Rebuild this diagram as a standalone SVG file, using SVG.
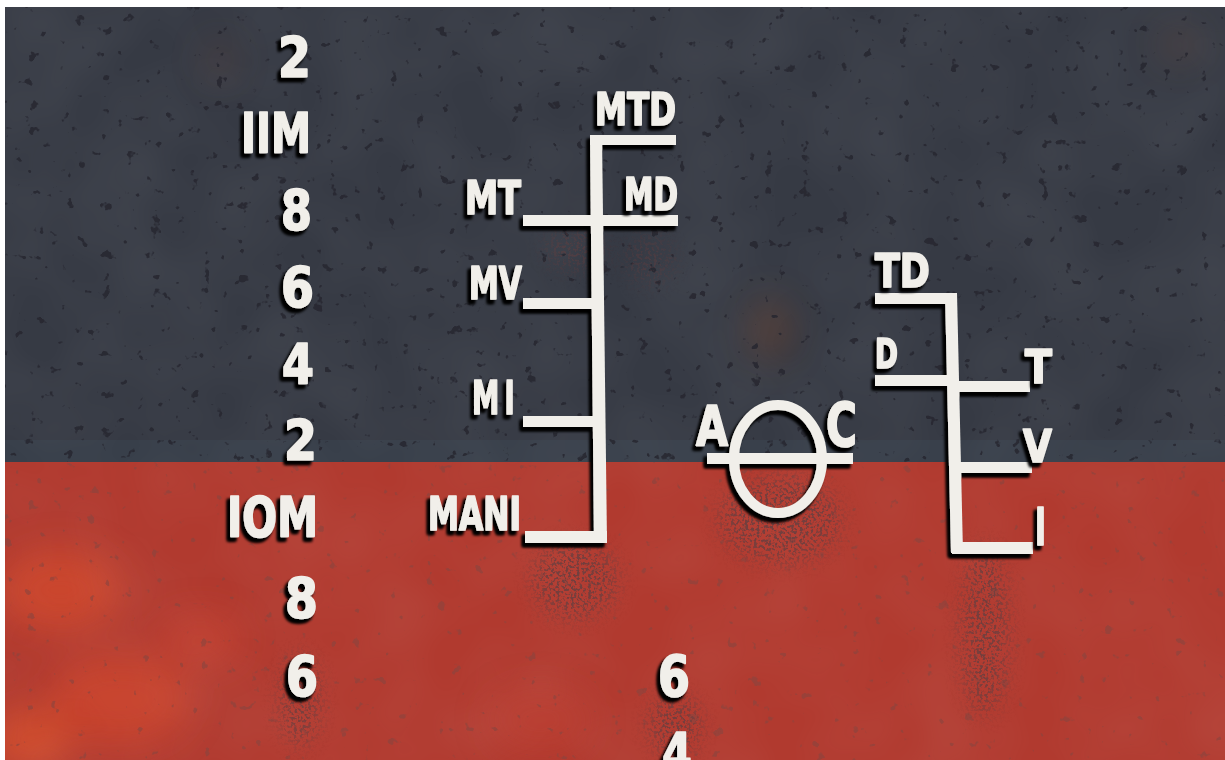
<svg xmlns="http://www.w3.org/2000/svg" width="1225" height="760" viewBox="0 0 1225 760">
  <defs>
    <style>
      .mk { fill: #f1efea; }
      .lbl { font-family: "DejaVu Sans Condensed", "DejaVu Sans", sans-serif; font-weight: bold; fill: #f1efea; stroke: #f1efea; stroke-width: 1.6; stroke-linejoin: round; }
      .ring { fill: none; stroke: #f1efea; stroke-width: 10; }
      .stain { fill: #000; }
    </style>
    <clipPath id="plate">
      <rect x="5" y="7" width="1220" height="753"/>
    </clipPath>
    <!-- raised, welded look: dark soft shadow to the lower left -->
    <filter id="raise" x="-10%" y="-10%" width="120%" height="120%">
      <feGaussianBlur in="SourceAlpha" stdDeviation="1.8" result="b"/>
      <feOffset in="b" dx="-3.5" dy="3.5" result="o"/>
      <feFlood flood-color="#050506" flood-opacity="1"/>
      <feComposite in2="o" operator="in" result="s"/>
      <feMerge><feMergeNode in="s"/><feMergeNode in="s"/><feMergeNode in="SourceGraphic"/></feMerge>
    </filter>
    <!-- black pits over the topside paint -->
    <filter id="pits" x="0" y="0" width="100%" height="100%">
      <feTurbulence type="fractalNoise" baseFrequency="0.08" numOctaves="3" seed="11" result="n"/>
      <feColorMatrix in="n" type="matrix" values="0 0 0 0 0.02  0 0 0 0 0.02  0 0 0 0 0.03  -16 0 0 0 4.65"/>
    </filter>
    <!-- fewer, fainter flecks on the red -->
    <filter id="flecks" x="0" y="0" width="100%" height="100%">
      <feTurbulence type="fractalNoise" baseFrequency="0.08" numOctaves="3" seed="23" result="n"/>
      <feColorMatrix in="n" type="matrix" values="0 0 0 0 0.25  0 0 0 0 0.06  0 0 0 0 0.05  -16 0 0 0 4.35"/>
    </filter>
    <!-- broad mottling of the paint -->
    <filter id="mottle" x="0" y="0" width="100%" height="100%">
      <feTurbulence type="fractalNoise" baseFrequency="0.012" numOctaves="2" seed="4" result="n"/>
      <feColorMatrix in="n" type="matrix" values="0 0 0 0 1  0 0 0 0 1  0 0 0 0 1  0 0 0 -1.2 0.9"/>
    </filter>
    <!-- dark rust-run speckle, shaped by the drawn blob -->
    <filter id="smudge" x="-60%" y="-60%" width="220%" height="220%">
      <feGaussianBlur in="SourceAlpha" stdDeviation="10" result="b"/>
      <feTurbulence type="fractalNoise" baseFrequency="0.35" numOctaves="2" seed="3" result="n"/>
      <feColorMatrix in="n" type="matrix" values="0 0 0 0 0.15  0 0 0 0 0.05  0 0 0 0 0.05  -7 0 0 0 3.6" result="dots"/>
      <feComposite in="dots" in2="b" operator="in"/>
    </filter>
    <filter id="soft" x="-50%" y="-50%" width="200%" height="200%">
      <feGaussianBlur stdDeviation="18"/>
    </filter>
  </defs>

  <rect x="0" y="0" width="1225" height="760" fill="#ffffff"/>

  <g id="hull" clip-path="url(#plate)">
    <!-- topside paint and boot-top red -->
    <rect x="5" y="7" width="1220" height="456" fill="#363a44"/>
    <rect x="5" y="440" width="1220" height="22" fill="#3b424e" opacity="0.6"/>
    <rect x="5" y="462" width="1220" height="298" fill="#b13a2f"/>

    <!-- orange wear on the red -->
    <g filter="url(#soft)" opacity="0.55">
      <ellipse cx="60" cy="590" rx="60" ry="40" fill="#e0502a"/>
      <ellipse cx="120" cy="700" rx="70" ry="45" fill="#d9492a"/>
      <ellipse cx="30" cy="740" rx="40" ry="30" fill="#e85a2c"/>
      <ellipse cx="200" cy="640" rx="40" ry="25" fill="#cc4530"/>
      <ellipse cx="540" cy="720" rx="50" ry="30" fill="#c04030"/>
    </g>
    <!-- faint rust blooms on the topside -->
    <g filter="url(#soft)" opacity="0.35">
      <ellipse cx="770" cy="330" rx="22" ry="32" fill="#8a4a26"/>
      <ellipse cx="1180" cy="45" rx="20" ry="14" fill="#7a4a30"/>
      <ellipse cx="220" cy="60" rx="14" ry="20" fill="#6a4030"/>
    </g>

    <rect x="5" y="7" width="1220" height="753" fill="#000" filter="url(#mottle)" opacity="0.06"/>
    <rect x="5" y="7" width="1220" height="455" fill="#000" filter="url(#pits)" opacity="0.85"/>
    <rect x="5" y="462" width="1220" height="298" fill="#000" filter="url(#flecks)" opacity="0.6"/>

    <!-- dark runs below the marks -->
    <g id="runs" opacity="0.9">
      <ellipse class="stain" cx="780" cy="520" rx="60" ry="42" filter="url(#smudge)"/>
      <ellipse class="stain" cx="575" cy="580" rx="42" ry="38" filter="url(#smudge)"/>
      <ellipse class="stain" cx="985" cy="630" rx="22" ry="85" filter="url(#smudge)"/>
      <ellipse class="stain" cx="675" cy="725" rx="25" ry="30" filter="url(#smudge)"/>
      <ellipse class="stain" cx="300" cy="700" rx="18" ry="45" filter="url(#smudge)"/>
      <ellipse class="stain" cx="575" cy="250" rx="30" ry="20" filter="url(#smudge)" opacity="0.5"/>
      <ellipse class="stain" cx="650" cy="260" rx="25" ry="25" filter="url(#smudge)" opacity="0.4"/>
    </g>

    <!-- draft scale, forward column -->
    <g id="draft-marks" filter="url(#raise)">
      <text class="lbl" x="278" y="76" font-size="55" textLength="33" lengthAdjust="spacingAndGlyphs">2</text>
      <text class="lbl" x="241" y="152" font-size="55" textLength="70" lengthAdjust="spacingAndGlyphs">IIM</text>
      <text class="lbl" x="281" y="229" font-size="55" textLength="31" lengthAdjust="spacingAndGlyphs">8</text>
      <text class="lbl" x="281" y="306" font-size="55" textLength="33" lengthAdjust="spacingAndGlyphs">6</text>
      <text class="lbl" x="282" y="383" font-size="55" textLength="32" lengthAdjust="spacingAndGlyphs">4</text>
      <text class="lbl" x="284" y="459" font-size="55" textLength="33" lengthAdjust="spacingAndGlyphs">2</text>
      <text class="lbl" x="227" y="536" font-size="55" textLength="91" lengthAdjust="spacingAndGlyphs">IOM</text>
      <text class="lbl" x="285" y="617" font-size="55" textLength="33" lengthAdjust="spacingAndGlyphs">8</text>
      <text class="lbl" x="286" y="695" font-size="55" textLength="32" lengthAdjust="spacingAndGlyphs">6</text>
    </g>
    <g id="draft-marks-aft" filter="url(#raise)">
      <text class="lbl" x="658" y="697" font-size="57" textLength="32" lengthAdjust="spacingAndGlyphs">6</text>
      <text class="lbl" x="662" y="774" font-size="57" textLength="30" lengthAdjust="spacingAndGlyphs">4</text>
    </g>

    <!-- timber load lines -->
    <g id="timber-lines" filter="url(#raise)">
      <path class="mk" d="M590 135 L602 135 L607 543 L594 543 Z"/>
      <rect class="mk" x="590" y="135" width="86" height="10"/>
      <rect class="mk" x="523" y="215" width="155" height="11"/>
      <rect class="mk" x="523" y="298" width="72" height="11"/>
      <rect class="mk" x="523" y="416" width="74" height="11"/>
      <rect class="mk" x="525" y="531" width="82" height="12"/>
    </g>
    <g id="timber-labels" filter="url(#raise)">
      <text class="lbl" x="595" y="125" font-size="44" textLength="81" lengthAdjust="spacingAndGlyphs">MTD</text>
      <text class="lbl" x="465" y="214" font-size="46" textLength="56" lengthAdjust="spacingAndGlyphs">MT</text>
      <text class="lbl" x="624" y="210" font-size="44" textLength="54" lengthAdjust="spacingAndGlyphs">MD</text>
      <text class="lbl" x="469" y="299" font-size="45" textLength="53" lengthAdjust="spacingAndGlyphs">MV</text>
      <text class="lbl" x="472" y="414" font-size="47" textLength="48" lengthAdjust="spacingAndGlyphs" letter-spacing="8">MI</text>
      <text class="lbl" x="428" y="530" font-size="47" textLength="93" lengthAdjust="spacingAndGlyphs">MANI</text>
    </g>

    <!-- deck-line disc -->
    <g id="disc" filter="url(#raise)">
      <ellipse class="ring" cx="778" cy="459" rx="44" ry="54"/>
      <rect class="mk" x="707" y="453" width="146" height="11"/>
      <text class="lbl" x="696" y="445" font-size="56" textLength="32" lengthAdjust="spacingAndGlyphs">A</text>
      <text class="lbl" x="826" y="446" font-size="60" textLength="31" lengthAdjust="spacingAndGlyphs">C</text>
    </g>

    <!-- load lines -->
    <g id="load-lines" filter="url(#raise)">
      <path class="mk" d="M945 293 L957 293 L963 553 L951 553 Z"/>
      <rect class="mk" x="875" y="293" width="82" height="11"/>
      <rect class="mk" x="875" y="375" width="80" height="11"/>
      <rect class="mk" x="955" y="381" width="75" height="11"/>
      <rect class="mk" x="960" y="462" width="72" height="11"/>
      <rect class="mk" x="952" y="542" width="81" height="12"/>
    </g>
    <g id="load-labels" filter="url(#raise)">
      <text class="lbl" x="875" y="287" font-size="46" textLength="55" lengthAdjust="spacingAndGlyphs">TD</text>
      <text class="lbl" x="875" y="368" font-size="40" textLength="23" lengthAdjust="spacingAndGlyphs">D</text>
      <text class="lbl" x="1025" y="383" font-size="47" textLength="27" lengthAdjust="spacingAndGlyphs">T</text>
      <text class="lbl" x="1023" y="462" font-size="44" textLength="29" lengthAdjust="spacingAndGlyphs">V</text>
      <text class="lbl" x="1035" y="545" font-size="52" textLength="11" lengthAdjust="spacingAndGlyphs">I</text>
    </g>
  </g>
</svg>
